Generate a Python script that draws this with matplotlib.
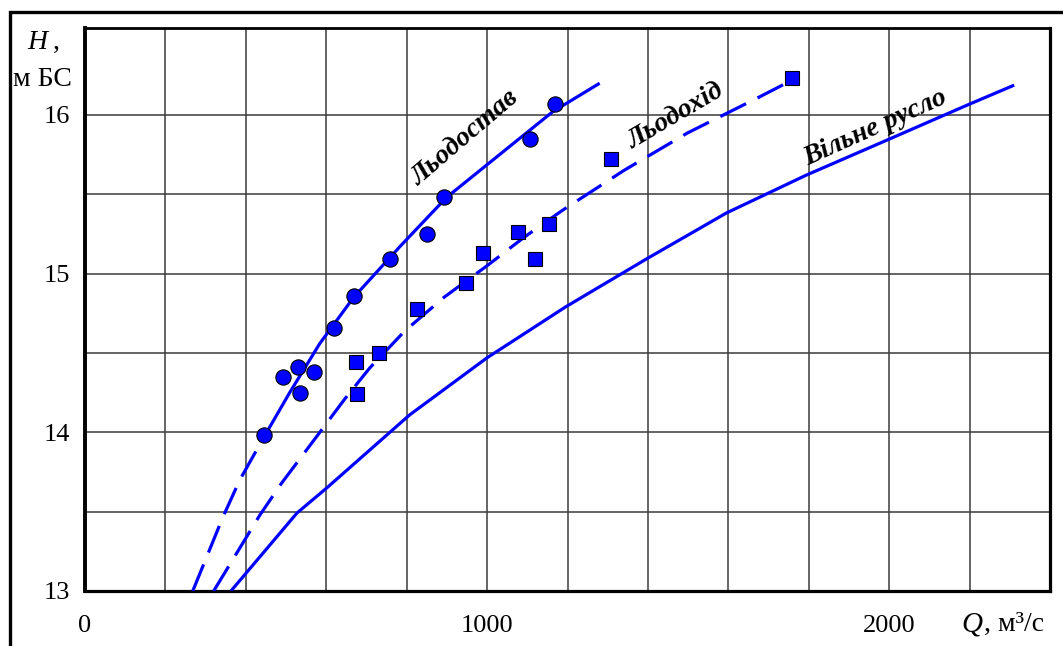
import numpy as np
import matplotlib
matplotlib.use("Agg")
import matplotlib.pyplot as plt
from matplotlib.patches import Rectangle

# ---- data ----
# Observed points: ice cover (Льодостав) - circles
q_ice = [445, 492, 529, 534, 569, 619, 668, 758, 850, 892, 1106, 1168]
h_ice = [13.98, 14.35, 14.41, 14.25, 14.38, 14.66, 14.86, 15.09, 15.25, 15.48, 15.85, 16.07]

# Observed points: ice drift (Льодохід) - squares
q_drift = [673, 676, 730, 825, 947, 989, 1076, 1120, 1153, 1307, 1759]
h_drift = [14.44, 14.24, 14.50, 14.78, 14.94, 15.13, 15.26, 15.09, 15.31, 15.72, 16.23]

# Rating curve, ice cover: extrapolated (dashed) part and fitted (solid) part
q_ice_dash = [268, 343, 385, 445]
h_ice_dash = [13.00, 13.466, 13.70, 13.97]
q_ice_line = [445, 509, 584, 668, 783, 899, 1031, 1163, 1280]
h_ice_line = [13.97, 14.25, 14.56, 14.85, 15.17, 15.48, 15.75, 16.02, 16.20]

# Rating curve, ice drift (dashed)
q_drift_line = [320, 435, 489, 584, 646, 708, 795, 894, 999, 1093, 1188, 1342, 1498, 1677, 1759]
h_drift_line = [13.00, 13.479, 13.68, 14.00, 14.21, 14.405, 14.638, 14.853, 15.048, 15.231,
                 15.40, 15.653, 15.886, 16.113, 16.22]

# Rating curve, open channel (Вільне русло)
q_open = [363, 527, 601, 807, 999, 1195, 1396, 1595, 1794, 1995, 2194, 2311]
h_open = [13.00, 13.491, 13.649, 14.109, 14.468, 14.79, 15.092, 15.382, 15.621, 15.842,
          16.062, 16.188]

x_ticks = [0, 1000, 2000]
y_ticks = [13, 14, 15, 16]
curve_names = ["Льодостав", "Льодохід", "Вільне русло"]

# ---- figure ----
W, H = 1063, 646
fig = plt.figure(figsize=(W / 100, H / 100), dpi=100)
serif = "Liberation Serif"
plt.rcParams["font.family"] = [serif, "DejaVu Serif"]

ax = fig.add_axes([85 / W, 1 - 591 / H, (1050 - 85) / W, (591 - 28) / H])
ax.set_xlim(0, 2400)
ax.set_ylim(13, 16.548)

blue = "#0000ff"
lw = 2.3
ax.plot(q_ice_dash, h_ice_dash, color=blue, lw=lw, dashes=(9, 4), zorder=3)
ax.plot(q_ice_line, h_ice_line, color=blue, lw=lw, zorder=3, solid_capstyle="butt",
        solid_joinstyle="round")
ax.plot(q_drift_line, h_drift_line, color=blue, lw=lw, dashes=(9, 4), zorder=3)
ax.plot(q_open, h_open, color=blue, lw=lw, zorder=3, solid_capstyle="butt",
        solid_joinstyle="round")

ax.plot(q_ice, h_ice, "o", ms=11, mfc=blue, mec="black", mew=0.8, zorder=5, clip_on=False)
ax.plot(q_drift, h_drift, "s", ms=10.5, mfc=blue, mec="black", mew=0.8, zorder=5, clip_on=False)

# grid
grid_x = np.arange(200, 2400, 200)
grid_y = np.arange(13.5, 16.01, 0.5)
for gx in grid_x:
    ax.axvline(gx, color="#3a3a3a", lw=1.1, zorder=1)
for gy in grid_y:
    ax.axhline(gy, color="#3a3a3a", lw=1.1, zorder=1)

ax.set_xticks(x_ticks)
ax.set_xticklabels([str(v) for v in x_ticks])
ax.set_yticks(y_ticks)
ax.set_yticklabels([str(v) for v in y_ticks])
ax.tick_params(axis="both", length=0, labelsize=19)
ax.tick_params(axis="x", pad=17)
ax.tick_params(axis="y", pad=11)
for lab in ax.get_xticklabels() + ax.get_yticklabels():
    lab.set_fontfamily(serif)

for side, w in [("left", 2.8), ("bottom", 2.3), ("top", 2.0), ("right", 2.3)]:
    ax.spines[side].set_linewidth(w)
    ax.spines[side].set_color("black")

# curve labels
lab_style = dict(fontfamily=serif, fontsize=20, fontweight="bold", fontstyle="italic",
                 ha="center", va="center", rotation_mode="anchor", zorder=6)
ax.text(947, 15.854, curve_names[0], rotation=40.5, **lab_style)
ax.text(1471, 15.99, curve_names[1], rotation=30.5, **lab_style)
ax.text(1965, 15.92, curve_names[2], rotation=24.2, **lab_style)

# axis titles
fig.text(27 / W, 1 - 49 / H, "H", fontfamily=serif, fontstyle="italic", fontsize=20,
         ha="left", va="baseline")
fig.text(53 / W, 1 - 49 / H, ",", fontfamily=serif, fontsize=20, ha="left", va="baseline")
fig.text(72 / W, 1 - 86 / H, "м БС", fontfamily=serif, fontsize=20, ha="right", va="baseline")

fig.text(961 / W, 1 - 631 / H, "Q", fontfamily=serif, fontstyle="italic", fontsize=21,
         ha="left", va="baseline")
fig.text(984 / W, 1 - 631 / H, ", м³/с", fontfamily=serif, fontsize=20, ha="left",
         va="baseline")

# outer frame (clipped by image edges at right and bottom)
frame = Rectangle((9.5 / W, -0.2), 1.5, 1.2 - 11.5 / H, transform=fig.transFigure,
                  fill=False, lw=2.4, edgecolor="black", clip_on=False)
fig.add_artist(frame)

fig.savefig("out.png", dpi=100)
